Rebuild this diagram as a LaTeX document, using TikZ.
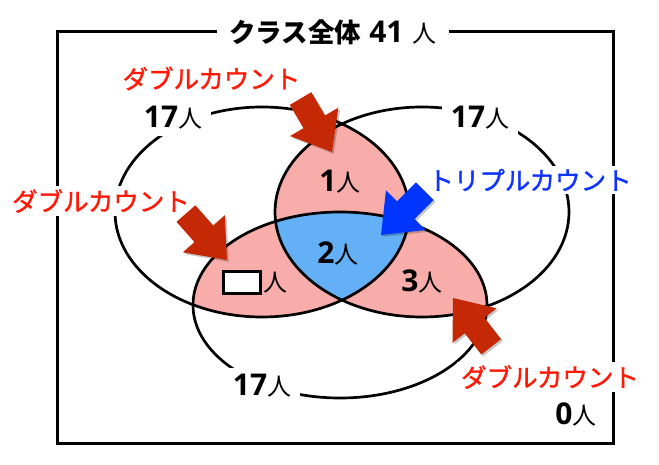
\documentclass[tikz,border=0pt]{standalone}
\usepackage{fontspec}
\setmainfont{Noto Sans CJK JP}
\newfontfamily\digitfont{Open Sans}
\newfontfamily\jpmed[FakeBold=1.2]{Noto Sans CJK JP}
\definecolor{pinkfill}{RGB}{248,173,171}
\definecolor{bluefill}{RGB}{99,176,246}
\definecolor{arrowred}{RGB}{196,40,4}
\definecolor{textred}{RGB}{255,26,8}
\definecolor{textblue}{RGB}{16,52,255}
\definecolor{arrowblue}{RGB}{0,52,255}
\newcommand{\ppl}[1]{{\digitfont\bfseries\fontsize{30}{30}\selectfont #1}{\fontsize{24}{24}\selectfont 人}}
\newcommand{\blockarr}[3]{%
  \begin{scope}[shift={#1}]
    \fill[black,opacity=0.22,xshift=1.8pt,yshift=-1.8pt,rotate=#2,x=1pt,y=1pt]
      (0,0) -- (-35,28) -- (-35,12.5) -- (-62,12.5) -- (-62,-12.5) -- (-35,-12.5) -- (-35,-28) -- cycle;
    \fill[#3,rotate=#2,x=1pt,y=1pt]
      (0,0) -- (-35,28) -- (-35,12.5) -- (-62,12.5) -- (-62,-12.5) -- (-35,-12.5) -- (-35,-28) -- cycle;
  \end{scope}}
\tikzset{
  redlbl/.style={text=textred, font=\jpmed\fontsize{25.5}{26}\selectfont, fill=white, inner xsep=4pt, inner ysep=3pt},
  bluelbl/.style={text=textblue, font=\jpmed\fontsize{25.5}{26}\selectfont, fill=white, inner xsep=4pt, inner ysep=3pt},
  cntw/.style={fill=white, inner xsep=9pt, inner ysep=6pt},
  cnt/.style={inner sep=1pt},
  venn/.style={line width=2.7pt},
}
\begin{document}
\begin{tikzpicture}[x=1pt,y=-1pt]
\useasboundingbox (0,0) rectangle (659,465);
\fill[white] (0,0) rectangle (659,465);
% pairwise overlaps
\begin{scope}
  \clip (262,212) ellipse [x radius=147pt, y radius=105pt];
  \fill[pinkfill] (422,212) ellipse [x radius=147pt, y radius=105pt];
  \fill[pinkfill] (340,305) ellipse [x radius=147pt, y radius=93pt];
\end{scope}
\begin{scope}
  \clip (422,212) ellipse [x radius=147pt, y radius=105pt];
  \fill[pinkfill] (340,305) ellipse [x radius=147pt, y radius=93pt];
\end{scope}
% triple overlap
\begin{scope}
  \clip (262,212) ellipse [x radius=147pt, y radius=105pt];
  \clip (422,212) ellipse [x radius=147pt, y radius=105pt];
  \fill[bluefill] (340,305) ellipse [x radius=147pt, y radius=93pt];
\end{scope}
% outlines
\draw[venn] (262,212) ellipse [x radius=147pt, y radius=105pt];
\draw[venn] (422,212) ellipse [x radius=147pt, y radius=105pt];
\draw[venn] (340,305) ellipse [x radius=147pt, y radius=93pt];
% frame
\draw[line width=3pt] (57,32) rectangle (613,443);
% title
\node[fill=white, inner xsep=12pt, inner ysep=4pt] (ttl) at (333,32)
  {{\bfseries\fontsize{26.5}{26}\selectfont クラス全体}\hspace{8pt}{\digitfont\bfseries\fontsize{30}{30}\selectfont 41}\hspace{9pt}{\fontsize{24}{24}\selectfont 人}};
% set counts
\node[cntw] (ul) at (173,118) {\ppl{17}};
\node[cntw] (ur) at (480,118) {\ppl{17}};
\node[cntw] (bt) at (262,386) {\ppl{17}};
\node[cnt] (none) at (576,414) {\ppl{0}};
% region counts
\node[cnt] (r12) at (340,182) {\ppl{1}};
\node[cnt] (r123) at (338,253) {\ppl{2}};
\node[cnt] (r23) at (422,281) {\ppl{3}};
\node[draw, line width=2.7pt, fill=white, minimum width=37.3pt, minimum height=22.3pt, inner sep=0pt] (blank) at (242,282.5) {};
\node[cnt, font=\fontsize{24}{24}\selectfont, anchor=west] (blankppl) at (blank.east) {人};
% labels
\node[redlbl] (dbl1) at (211.5,78.5) {ダブルカウント};
\node[redlbl] (dbl2) at (101,201) {ダブルカウント};
\node[redlbl] (dbl3) at (550,377) {ダブルカウント};
\node[bluelbl] (trip) at (530,180) {トリプルカウント};
% arrows
\blockarr{(332,152)}{-59.5}{arrowred}
\blockarr{(227,260)}{-48.5}{arrowred}
\blockarr{(453,298)}{128}{arrowred}
\blockarr{(381,235)}{-135}{arrowblue}
\end{tikzpicture}
\end{document}
